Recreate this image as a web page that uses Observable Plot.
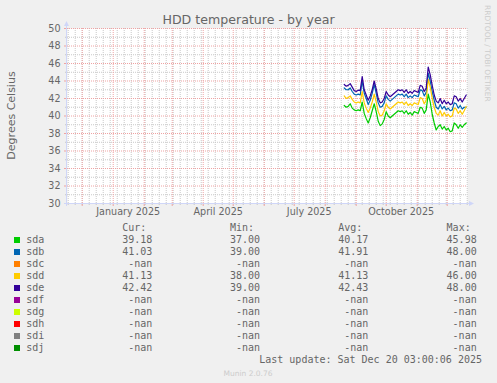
<!DOCTYPE html>
<html><head><meta charset="utf-8">
<script src="https://cdn.jsdelivr.net/npm/d3@7"></script>
<script src="https://cdn.jsdelivr.net/npm/@observablehq/plot@0.6"></script>
<style>html,body{margin:0;padding:0;background:#F0F0F0;} svg{display:block}</style>
</head><body><div id="chart"></div>
<script>
const titleText = "HDD temperature - by year";
const yLabelText = "Degrees Celsius";
const lastUpdate = "Last update: Sat Dec 20 03:00:06 2025";
const footerText = "Munin 2.0.76";
const watermark = "RRDTOOL / TOBI OETIKER";

// daily-average samples (every 2 days from 2025-08-20)
const dates = ["2025-08-20","2025-08-22","2025-08-24","2025-08-26","2025-08-28","2025-08-30","2025-09-01","2025-09-03","2025-09-05","2025-09-07","2025-09-09","2025-09-11","2025-09-13","2025-09-15","2025-09-17","2025-09-19","2025-09-21","2025-09-23","2025-09-25","2025-09-27","2025-09-29","2025-10-01","2025-10-03","2025-10-05","2025-10-07","2025-10-09","2025-10-11","2025-10-13","2025-10-15","2025-10-17","2025-10-19","2025-10-21","2025-10-23","2025-10-25","2025-10-27","2025-10-29","2025-10-31","2025-11-02","2025-11-04","2025-11-06","2025-11-08","2025-11-10","2025-11-12","2025-11-14","2025-11-16","2025-11-18","2025-11-20","2025-11-22","2025-11-24","2025-11-26","2025-11-28","2025-11-30","2025-12-02","2025-12-04","2025-12-06","2025-12-08","2025-12-10","2025-12-12","2025-12-14","2025-12-16","2025-12-18","2025-12-20"];
const sdaVals = [41.2,41.0,41.1,41.4,40.9,40.7,40.6,40.7,40.6,41.6,40.3,39.7,39.2,39.8,40.6,41.4,40.5,39.4,38.9,39.1,39.6,40.5,40.0,39.8,40.0,40.2,40.4,40.6,40.5,40.6,40.3,40.6,40.2,40.4,40.1,40.5,40.4,40.3,41.0,40.9,40.3,40.7,42.5,41.6,40.2,39.2,38.4,38.8,39.0,38.5,38.8,38.4,38.6,38.2,38.3,39.2,39.0,38.6,39.0,38.7,39.0,39.2];
const sdbVals = [43.2,43.0,43.0,43.2,42.8,42.5,42.4,42.5,42.4,44.0,42.6,42.0,41.3,41.8,42.6,43.6,42.6,41.5,41.0,41.1,41.5,42.3,41.9,41.7,41.9,42.1,42.3,42.5,42.4,42.5,42.2,42.5,42.1,42.3,42.1,42.4,42.3,42.2,43.0,42.9,42.3,42.7,44.9,44.0,42.8,41.8,41.0,40.8,41.3,40.8,41.1,40.7,40.9,40.6,40.7,41.5,41.4,40.9,41.2,40.8,41.0,41.0];
const sddVals = [42.3,42.0,42.1,42.3,41.9,41.6,41.5,41.6,41.5,42.8,41.5,40.9,40.4,40.9,41.6,42.5,41.6,40.5,40.0,40.1,40.6,41.4,41.0,40.8,41.0,41.2,41.4,41.6,41.5,41.6,41.3,41.6,41.2,41.4,41.2,41.5,41.4,41.3,42.1,42.0,41.4,41.8,44.2,43.3,42.0,41.0,40.3,40.1,40.6,40.0,40.4,40.0,40.2,39.9,40.0,40.9,40.8,40.3,40.6,40.2,40.6,41.1];
const sdeVals = [43.6,43.4,43.5,43.7,43.3,42.9,42.8,42.95,42.9,44.5,43.0,42.4,41.8,42.3,43.0,44.0,43.1,42.0,41.5,41.6,42.0,42.8,42.4,42.2,42.4,42.6,42.8,43.0,42.9,43.0,42.7,43.0,42.6,42.8,42.6,42.9,42.8,42.7,43.5,43.4,42.8,43.2,45.6,44.7,43.5,42.4,41.7,41.5,42.0,41.4,41.8,41.4,41.6,41.3,41.4,42.3,42.2,41.7,42.0,41.6,42.0,42.4];

const seriesNames = ["sda","sdb","sdc","sdd","sde","sdf","sdg","sdh","sdi","sdj"];
const seriesColors = ["#00CC00","#0066B3","#FF8000","#FFCC00","#330099","#990099","#CCFF00","#FF0000","#808080","#008F00"];
const curVals = [39.18,41.03,NaN,41.13,42.42,NaN,NaN,NaN,NaN,NaN];
const minVals = [37.00,39.00,NaN,38.00,39.00,NaN,NaN,NaN,NaN,NaN];
const avgVals = [40.17,41.91,NaN,41.13,42.43,NaN,NaN,NaN,NaN,NaN];
const maxVals = [45.98,48.00,NaN,46.00,48.00,NaN,NaN,NaN,NaN,NaN];
const colHeaders = ["Cur:","Min:","Avg:","Max:"];

const yTicks = [30,32,34,36,38,40,42,44,46,48,50];
const yMinor = [31,33,35,37,39,41,43,45,47,49];
const xLabelDates = ["2025-01-16","2025-04-16","2025-07-16","2025-10-16"];
const xLabelText = ["January 2025","April 2025","July 2025","October 2025"];

const start = new Date(Date.UTC(2024,10,16,7));
const end = new Date(Date.UTC(2025,11,21,7));
const months = d3.utcMonth.range(start, end);
const weeks = d3.utcSunday.range(start, end);

const seriesData = {sda: sdaVals, sdb: sdbVals, sdd: sddVals, sde: sdeVals};
const rows = [];
for (const name of seriesNames) {
  const vals = seriesData[name];
  if (!vals) continue;
  dates.forEach((d, i) => rows.push({name, date: new Date(d + "T00:00:00Z"), value: vals[i]}));
}

const minorCol = "#C8C8C8";
const majorCol = "#EFA3A3";
const fontCol = "#666666";

const plot = Plot.plot({
  width: 497, height: 383,
  marginLeft: 67, marginRight: 30, marginTop: 28, marginBottom: 180,
  style: {background: "#F0F0F0", fontFamily: "DejaVu Sans", fontSize: "9.6px", color: fontCol},
  x: {type: "utc", domain: [start, end], axis: null},
  y: {domain: [30, 50], axis: null},
  color: {domain: seriesNames, range: seriesColors},
  marks: [
    Plot.frame({fill: "white", stroke: null}),
    Plot.ruleY(yMinor, {stroke: minorCol, strokeDasharray: "1,1"}),
    Plot.ruleX(weeks, {stroke: minorCol, strokeDasharray: "1,1"}),
    Plot.ruleY(yTicks, {stroke: majorCol, strokeDasharray: "1,1"}),
    Plot.ruleX(months, {stroke: majorCol, strokeDasharray: "1,1"}),
    Plot.line(rows, {x: "date", y: "value", z: "name", stroke: "name", strokeWidth: 1.2}),
    Plot.text(yTicks, {x: start, y: d => d, text: d => String(d), textAnchor: "end", dx: -7, lineAnchor: "middle", fill: fontCol}),
    Plot.text(xLabelDates, {x: d => new Date(d + "T00:00:00Z"), y: 30, text: (d, i) => xLabelText[i], lineAnchor: "top", dy: 5, fill: fontCol})
  ]
});
document.getElementById("chart").appendChild(plot);

const xs = plot.scale("x"), ys = plot.scale("y");
const svg = d3.select(plot);
const x0 = xs.apply(start), x1 = xs.apply(end);
const yb = ys.apply(30), yt = ys.apply(50);
const axisCol = "#CFD6F8";
const g = svg.append("g");
// axis ticks
for (const w of weeks) g.append("line").attr("x1", xs.apply(w)+0.5).attr("x2", xs.apply(w)+0.5).attr("y1", yb).attr("y2", yb+2).attr("stroke", minorCol);
for (const m of months) g.append("line").attr("x1", xs.apply(m)+0.5).attr("x2", xs.apply(m)+0.5).attr("y1", yb).attr("y2", yb+3).attr("stroke", majorCol);
for (const v of yMinor) g.append("line").attr("x1", x0-2).attr("x2", x0).attr("y1", ys.apply(v)+0.5).attr("y2", ys.apply(v)+0.5).attr("stroke", minorCol);
for (const v of yTicks) g.append("line").attr("x1", x0-3).attr("x2", x0).attr("y1", ys.apply(v)+0.5).attr("y2", ys.apply(v)+0.5).attr("stroke", majorCol);
// axes with arrows
g.append("line").attr("x1", x0-0.5).attr("x2", x0-0.5).attr("y1", yb+3).attr("y2", yt-6).attr("stroke", axisCol);
g.append("line").attr("x1", x0-3).attr("x2", x1+4).attr("y1", yb+0.5).attr("y2", yb+0.5).attr("stroke", axisCol);
g.append("polygon").attr("points", `${x0-3},${yt-2} ${x0+2},${yt-2} ${x0-0.5},${yt-7}`).attr("fill", axisCol);
g.append("polygon").attr("points", `${x1+2},${yb-2} ${x1+2},${yb+3} ${x1+7},${yb+0.5}`).attr("fill", axisCol);

// title, labels
svg.append("text").attr("x", 248.5).attr("y", 24).attr("text-anchor", "middle").attr("font-family", "DejaVu Sans").attr("font-size", "12.6px").attr("fill", fontCol).text(titleText);
svg.append("text").attr("transform", `translate(14.5,${(yb+yt)/2}) rotate(-90)`).attr("text-anchor", "middle").attr("font-family", "DejaVu Sans").attr("font-size", "11px").attr("fill", fontCol).text(yLabelText);
svg.append("text").attr("transform", "translate(485,5) rotate(90)").attr("text-anchor", "start").attr("font-family", "DejaVu Sans").attr("font-size", "7.5px").attr("fill", "#CCCCCC").text(watermark);

// legend
const mono = "DejaVu Sans Mono";
const colRight = [152.3, 260, 368.3, 476.7];
const lg = svg.append("g").attr("font-family", mono).attr("font-size", "10px").attr("fill", fontCol).attr("text-anchor", "start");
colHeaders.forEach((h, j) => lg.append("text").attr("x", colRight[j] - 30.1).attr("y", 231).attr("text-anchor", "start").text(h));
const fmt = v => isNaN(v) ? "-nan" : v.toFixed(2);
seriesNames.forEach((n, i) => {
  const by = 243 + i * 12;
  lg.append("rect").attr("x", 14).attr("y", by - 6).attr("width", 6).attr("height", 6).attr("fill", seriesColors[i]);
  lg.append("text").attr("x", 26.3).attr("y", by).attr("text-anchor", "start").text(n);
  [curVals[i], minVals[i], avgVals[i], maxVals[i]].forEach((v, j) =>
    lg.append("text").attr("x", colRight[j]).attr("y", by).attr("text-anchor", "end").text(fmt(v)));
});
lg.append("text").attr("x", 482).attr("y", 363).attr("text-anchor", "end").text(lastUpdate);
svg.append("text").attr("x", 248).attr("y", 375.5).attr("text-anchor", "middle").attr("font-family", "DejaVu Sans").attr("font-size", "7.5px").attr("fill", "#CCCCCC").text(footerText);
</script></body></html>
